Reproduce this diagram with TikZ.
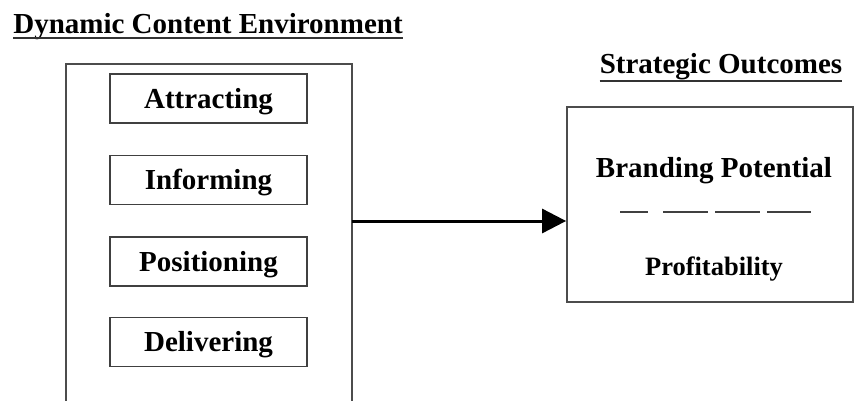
\documentclass[tikz,border=0pt]{standalone}
\usepackage{fontspec}
\setmainfont{Liberation Serif}
\usetikzlibrary{arrows.meta}
\begin{document}
\begin{tikzpicture}[x=1pt,y=-1pt,
  heading/.style={font=\fontsize{29}{30}\selectfont\bfseries, inner sep=0pt, anchor=base},
  itembox/.style={draw=black!75, line width=1.8pt, minimum width=197pt, minimum height=49pt,
                  inner sep=0pt, text height=19pt, text depth=0pt,
                  font=\fontsize{29}{30}\selectfont\bfseries},
  frame/.style={draw=black!70, line width=1.8pt},
  uline/.style={line width=2.2pt, black!80},
  outcome/.style={font=\fontsize{29}{30}\selectfont\bfseries, inner sep=0pt, anchor=base}]
\useasboundingbox (0,0) rectangle (855,400);
\clip (0,0) rectangle (855,400);

% left column: headline and the environment frame
\node[heading] (envtitle) at (208,33) {Dynamic Content Environment};
\draw[uline] ([yshift=-5pt]envtitle.base west) -- ([yshift=-5pt]envtitle.base east);
\draw[frame] (66,420) -- (66,64) -- (352,64) -- (352,420);
\coordinate (envout) at (352,221);

\node[itembox] (attr) at (208.5,98.5)  {Attracting};
\node[itembox] (info) at (208.5,180)   {Informing};
\node[itembox] (posi) at (208.5,261.5) {Positioning};
\node[itembox] (deli) at (208.5,342)   {Delivering};

% right column: headline and outcomes box
\node[heading] (outtitle) at (721,73) {Strategic Outcomes};
\draw[uline] ([yshift=-8pt]outtitle.base west) -- ([yshift=-8pt]outtitle.base east);
\node[frame, minimum width=286pt, minimum height=195pt, inner sep=0pt] (outbox) at (710,204.5) {};

\node[outcome] (brand) at (714,177) {Branding Potential};
\node[outcome, font=\fontsize{26.5}{28}\selectfont\bfseries] (profit) at (714,275) {Profitability};
\draw[line width=1.6pt, black!75]
  (620,212) -- (648,212)
  (663,212) -- (708,212)
  (715,212) -- (760,212)
  (767,212) -- (811,212);

% connector
\draw[line width=3pt, -{Triangle[length=24pt, width=24pt]}] (envout) -- (outbox.west |- envout);
\end{tikzpicture}
\end{document}
